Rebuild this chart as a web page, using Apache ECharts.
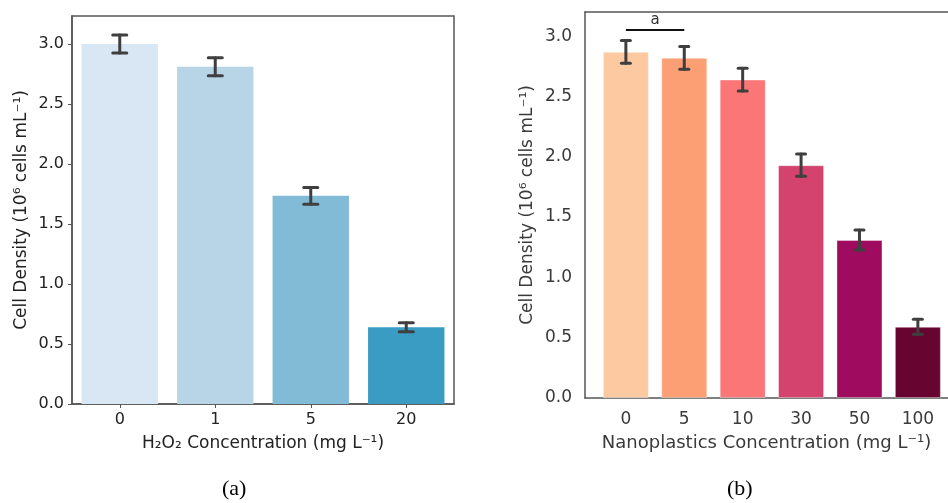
<!DOCTYPE html>
<html>
<head>
<meta charset="utf-8">
<script src="https://cdn.jsdelivr.net/npm/echarts@6/dist/echarts.min.js"></script>
<style>
  html, body { margin: 0; padding: 0; background: #fff; }
  #chart { width: 948px; height: 503px; }
</style>
</head>
<body>
<div id="chart"></div>
<script>
// panel (a): H2O2
const h2o2Cats = ['0', '1', '5', '20']
const h2o2Vals = [3.0, 2.81, 1.735, 0.64]
const h2o2Err = [0.075, 0.075, 0.07, 0.038]
const h2o2Colors = ['#d8e7f3', '#b8d5e7', '#82bbd6', '#3a9bc3']

// panel (b): nanoplastics
const npCats = ['0', '5', '10', '30', '50', '100']
const npVals = [2.87, 2.82, 2.64, 1.93, 1.31, 0.59]
const npErr = [0.094, 0.095, 0.094, 0.092, 0.083, 0.062]
const npColors = ['#fdc9a0', '#fc9f74', '#fb7677', '#d3436e', '#9e0b5f', '#680430']

const yTicks = [0, 0.5, 1.0, 1.5, 2.0, 2.5, 3.0]

const font = 'DejaVu Sans'
const chart = echarts.init(document.getElementById('chart'))

function errBars(capHalf, lw) {
  return function (params, api) {
    const x = api.value(0)
    const lo = api.coord([x, api.value(1)])
    const hi = api.coord([x, api.value(2)])
    const st = { stroke: '#3f3f3f', lineWidth: lw, lineCap: 'round' }
    return {
      type: 'group',
      children: [
        { type: 'line', shape: { x1: lo[0], y1: lo[1], x2: hi[0], y2: hi[1] }, style: st },
        { type: 'line', shape: { x1: lo[0] - capHalf, y1: lo[1], x2: lo[0] + capHalf, y2: lo[1] }, style: st },
        { type: 'line', shape: { x1: hi[0] - capHalf, y1: hi[1], x2: hi[0] + capHalf, y2: hi[1] }, style: st }
      ]
    }
  }
}

chart.setOption({
  animation: false,
  grid: [
    { left: 72, width: 382, top: 16, height: 388, show: true, borderColor: '#555', borderWidth: 1.5 },
    { left: 585, width: 363, top: 12, height: 386 }
  ],
  xAxis: [
    {
      gridIndex: 0, type: 'category', data: h2o2Cats,
      axisLine: { lineStyle: { color: '#555', width: 1.5 } },
      axisTick: { show: true, alignWithLabel: true, length: 4, lineStyle: { color: '#555' } },
      axisLabel: { color: '#222', fontFamily: font, fontSize: 16, margin: 8 },
      name: 'H₂O₂ Concentration (mg L⁻¹)', nameLocation: 'middle', nameGap: 31,
      nameTextStyle: { color: '#222', fontFamily: font, fontSize: 17 }
    },
    {
      gridIndex: 1, type: 'value', min: -0.7, max: 5.516,
      splitLine: { show: false },
      axisLine: { onZero: false, lineStyle: { color: '#555', width: 1.5 } },
      axisTick: { show: false },
      axisLabel: {
        color: '#3a3a3a', fontFamily: font, fontSize: 17, margin: 13,
        customValues: npCats.map((c, i) => i),
        formatter: v => npCats[Math.round(v)]
      },
      name: 'Nanoplastics Concentration (mg L⁻¹)', nameLocation: 'middle', nameGap: 36,
      nameTextStyle: { color: '#3a3a3a', fontFamily: font, fontSize: 18 }
    },
    {
      // top frame line of panel (b)
      gridIndex: 1, type: 'value', position: 'top', min: -0.7, max: 5.516,
      splitLine: { show: false },
      axisLine: { show: true, onZero: false, lineStyle: { color: '#555', width: 1.5 } },
      axisTick: { show: false },
      axisLabel: { show: false }
    }
  ],
  yAxis: [
    {
      gridIndex: 0, type: 'value', min: 0, max: 3.233,
      splitLine: { show: false },
      axisLine: { show: true, lineStyle: { color: '#555', width: 1.5 } },
      axisTick: { show: true, length: 4, customValues: yTicks, lineStyle: { color: '#555' } },
      axisLabel: { color: '#222', fontFamily: font, fontSize: 16, margin: 8, customValues: yTicks, formatter: v => v.toFixed(1) },
      name: 'Cell Density (10⁶ cells mL⁻¹)', nameLocation: 'middle', nameGap: 42,
      nameTextStyle: { color: '#222', fontFamily: font, fontSize: 17 }
    },
    {
      gridIndex: 1, type: 'value', min: 0, max: 3.2,
      splitLine: { show: false },
      axisLine: { show: true, onZero: false, lineStyle: { color: '#555', width: 1.5 } },
      axisTick: { show: false },
      axisLabel: { color: '#3a3a3a', fontFamily: font, fontSize: 17, margin: 13, customValues: yTicks, formatter: v => v.toFixed(1) },
      name: 'Cell Density (10⁶ cells mL⁻¹)', nameLocation: 'middle', nameGap: 49,
      nameTextStyle: { color: '#3a3a3a', fontFamily: font, fontSize: 17 }
    }
  ],
  series: [
    {
      type: 'bar', xAxisIndex: 0, yAxisIndex: 0, barWidth: '80%',
      data: h2o2Vals.map((v, i) => ({ value: v, itemStyle: { color: h2o2Colors[i] } }))
    },
    {
      type: 'custom', xAxisIndex: 0, yAxisIndex: 0, z: 5,
      renderItem: errBars(7, 3),
      encode: { x: 0, y: [1, 2] },
      data: h2o2Vals.map((v, i) => [i, v - h2o2Err[i], v + h2o2Err[i]])
    },
    {
      type: 'bar', xAxisIndex: 1, yAxisIndex: 1, barWidth: 46,
      itemStyle: { borderColor: 'rgba(255,255,255,0.35)', borderWidth: 1 },
      data: npVals.map((v, i) => ({ value: [i, v], itemStyle: { color: npColors[i] } })),
      markLine: {
        symbol: 'none', silent: true,
        lineStyle: { color: '#111', width: 2, type: 'solid' },
        label: { show: true, position: 'middle', formatter: 'a', color: '#333', fontFamily: font, fontSize: 15, distance: 2 },
        data: [[{ coord: [0, 3.056] }, { coord: [1, 3.056] }]]
      }
    },
    {
      type: 'custom', xAxisIndex: 1, yAxisIndex: 1, z: 5,
      renderItem: errBars(4.5, 3),
      encode: { x: 0, y: [1, 2] },
      data: npVals.map((v, i) => [i, v - npErr[i], v + npErr[i]])
    }
  ],
  graphic: [
    { type: 'text', left: 222, top: 478, style: { text: '(a)', font: '22px "Liberation Serif"', fill: '#000' } },
    { type: 'text', left: 727, top: 478, style: { text: '(b)', font: '22px "Liberation Serif"', fill: '#000' } }
  ]
})
</script>
</body>
</html>
